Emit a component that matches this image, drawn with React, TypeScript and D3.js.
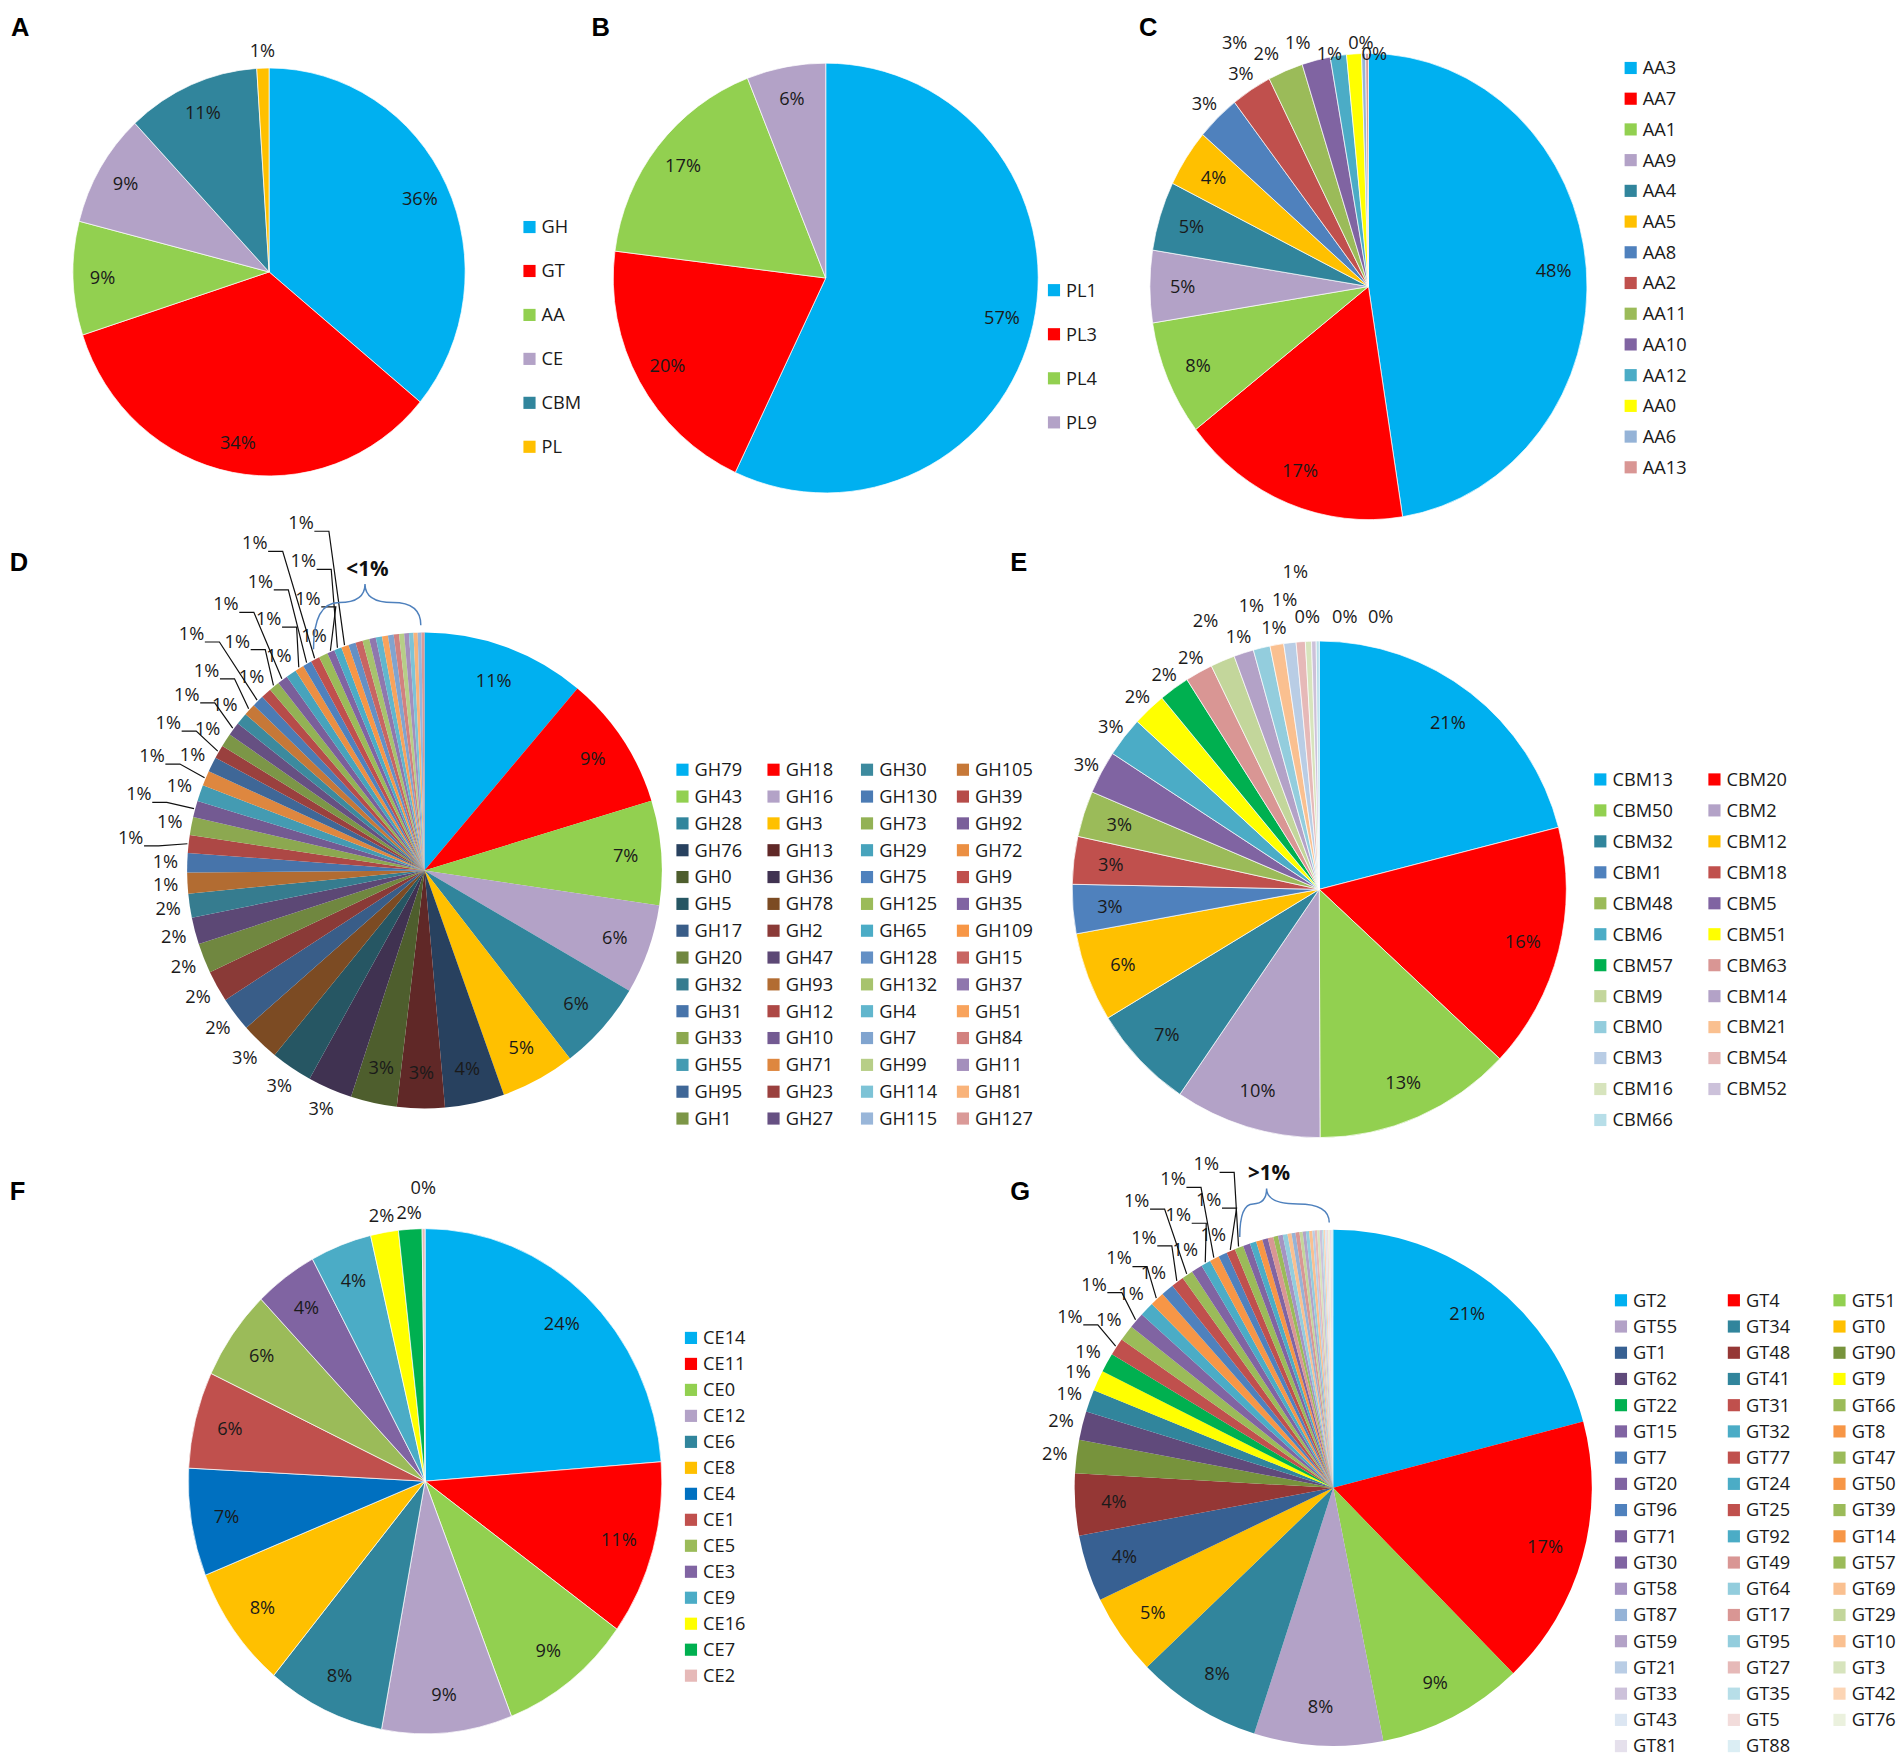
import { useEffect, useRef } from "react"
import * as d3 from "d3"

// A: share of each CAZy class
const classNames = ["GH", "GT", "AA", "CE", "CBM", "PL"]
const classShares = [36, 34, 9, 9, 11, 1]

// B: polysaccharide lyase families
const plFamilies = ["PL1", "PL3", "PL4", "PL9"]
const plShares = [57, 20, 17, 6]

// C: auxiliary activity families
const aaFamilies = ["AA3", "AA7", "AA1", "AA9", "AA4", "AA5", "AA8", "AA2", "AA11", "AA10", "AA12", "AA0", "AA6", "AA13"]
const aaShares = [47.5, 17, 8, 5, 4.8, 4, 3.2, 3, 2.6, 2.1, 1.2, 1.1, 0.3, 0.2]

// D: glycoside hydrolase families (pie order)
const ghFamilies = [
  "GH79", "GH18", "GH43", "GH16", "GH28", "GH3", "GH76", "GH13", "GH0", "GH36", "GH5", "GH78",
  "GH17", "GH2", "GH20", "GH47", "GH32", "GH93", "GH31", "GH12", "GH33", "GH10", "GH55", "GH71",
  "GH95", "GH23", "GH1", "GH27", "GH30", "GH105", "GH130", "GH39", "GH73", "GH92", "GH29", "GH72",
  "GH75", "GH9", "GH125", "GH35", "GH65", "GH109", "GH128", "GH15", "GH132", "GH37", "GH4", "GH51",
  "GH7", "GH84", "GH99", "GH11", "GH114", "GH81", "GH115", "GH127",
]
const ghShares = [
  11, 9, 7, 6, 6, 5, 4, 3.2, 3.1, 3.0, 2.8, 2.6, 2.3, 2.1, 2.0, 1.8, 1.6,
  1.4, 1.3, 1.2, 1.2, 1.1, 1.1, 1.0, 1.0, 0.9, 0.9, 0.9, 0.8, 0.8, 0.8, 0.7, 0.7, 0.7, 0.7,
  0.6, 0.6, 0.6, 0.6, 0.5, 0.5, 0.5,
  0.49, 0.48, 0.46, 0.44, 0.42, 0.4, 0.38, 0.36, 0.34, 0.32, 0.3, 0.28, 0.25, 0.2,
]

// E: carbohydrate-binding module families
const cbmFamilies = [
  "CBM13", "CBM20", "CBM50", "CBM2", "CBM32", "CBM12", "CBM1", "CBM18", "CBM48", "CBM5", "CBM6", "CBM51",
  "CBM57", "CBM63", "CBM9", "CBM14", "CBM0", "CBM21", "CBM3", "CBM54", "CBM16", "CBM52", "CBM66",
]
const cbmShares = [21, 16, 13, 9.6, 6.8, 5.8, 3.2, 3.1, 3.0, 2.8, 2.6, 2.2, 2.0, 1.8, 1.6, 1.3, 1.1, 0.9, 0.8, 0.6, 0.4, 0.3, 0.2]

// F: carbohydrate esterase families
const ceFamilies = ["CE14", "CE11", "CE0", "CE12", "CE6", "CE8", "CE4", "CE1", "CE5", "CE3", "CE9", "CE16", "CE7", "CE2"]
const ceShares = [23.8, 11.2, 9.1, 8.9, 8.1, 7.9, 6.9, 6.2, 5.8, 4.3, 4.2, 1.9, 1.6, 0.2]

// G: glycosyltransferase families (pie order)
const gtFamilies = [
  "GT2", "GT4", "GT51", "GT55", "GT34", "GT0", "GT1", "GT48", "GT90", "GT62", "GT41", "GT9",
  "GT22", "GT31", "GT66", "GT15", "GT32", "GT8", "GT7", "GT77", "GT47", "GT20", "GT24", "GT50",
  "GT96", "GT25", "GT39", "GT71", "GT92", "GT14", "GT30", "GT49", "GT57", "GT58", "GT64", "GT69",
  "GT87", "GT17", "GT29", "GT59", "GT95", "GT10", "GT21", "GT27", "GT3", "GT33", "GT35", "GT42",
  "GT43", "GT5", "GT76", "GT81", "GT88",
]
const gtShares = [
  21, 17, 9.2, 8.1, 7.9, 5.1, 4.2, 3.9, 2.1, 1.8,
  1.4, 1.3, 1.2, 1.1, 1.0, 1.0, 0.9, 0.9, 0.8, 0.8, 0.7, 0.7, 0.6, 0.6, 0.55, 0.55, 0.55,
  0.45, 0.4, 0.4, 0.35, 0.35, 0.3, 0.3, 0.3, 0.25, 0.25, 0.25, 0.2, 0.2, 0.2, 0.2,
  0.15, 0.15, 0.15, 0.15, 0.1, 0.1, 0.1, 0.1, 0.1, 0.1, 0.1,
]

// colours
const baseSix = ["#00B0F0", "#FF0000", "#92D050", "#B3A2C7", "#31859C", "#FFC000"]
const accents = ["#4F81BD", "#C0504D", "#9BBB59", "#8064A2", "#4BACC6", "#F79646"]
const shadeSteps = [-0.5, -0.28, -0.1, -0.2, -0.05, 0, 0.12, 0.28, 0.42]
const shade = (hex: string, t: number) =>
  t < 0 ? d3.interpolateRgb(hex, "#000")(-t) : d3.interpolateRgb(hex, "#fff")(t)

const aaColors = [...baseSix, "#4F81BD", "#C0504D", "#9BBB59", "#8064A2", "#4BACC6", "#FFFF00", "#95B3D7", "#D99694"]
const ghColors = ghFamilies.map((_, i) =>
  i < 6 ? baseSix[i] : shade(accents[(i - 6) % 6], shadeSteps[Math.floor((i - 6) / 6)])
)
const cbmColors = [
  ...baseSix, "#4F81BD", "#C0504D", "#9BBB59", "#8064A2", "#4BACC6", "#FFFF00", "#00B050", "#D99694",
  "#C3D69B", "#B3A2C7", "#93CDDD", "#FAC090", "#B9CDE5", "#E6B9B8", "#D7E4BD", "#CCC1DA", "#B7DEE8",
]
const ceColors = [...baseSix, "#0070C0", "#C0504D", "#9BBB59", "#8064A2", "#4BACC6", "#FFFF00", "#00B050", "#E6B9B8"]
const gtColors = [
  ...baseSix, "#376092", "#953735", "#77933C", "#604A7B", "#31859C", "#FFFF00",
  "#00B050", "#C0504D", "#9BBB59", "#8064A2", "#4BACC6", "#F79646", "#4F81BD", "#C0504D", "#9BBB59",
  "#8064A2", "#4BACC6", "#F79646", "#4F81BD", "#C0504D", "#9BBB59", "#8064A2", "#4BACC6", "#F79646",
  "#8064A2", "#D99694", "#9BBB59", "#A593C2", "#93CDDD", "#FAC090", "#95B3D7", "#D99694", "#C3D69B",
  "#B3A2C7", "#93CDDD", "#FAC090", "#B9CDE5", "#E6B9B8", "#D7E4BD", "#CCC1DA", "#B7DEE8", "#FCD5B5",
  "#DCE6F2", "#F2DCDB", "#EBF1DE", "#E5E0EC", "#DBEEF4",
]

const LABEL_FONT = "'Open Sans', 'Noto Sans', sans-serif"

interface Panel {
  letter: string
  lx: number
  ly: number
  names: string[]
  values: number[]
  colors: string[]
  cx: number
  cy: number
  rx: number
  ry: number
  insideMin: number
  hideBelow?: number
  leaders?: boolean
  outBase: number
  step: number
  boxH: number
  tight: number
  spreadZero?: boolean
  rowFrom?: number // labels of slices past this angle are set in a row above the pie
  stroke: string
  legendX: number[]
  legendY: number
  legendDy: number
  blockCols: number
  perBlock: number
  brace?: { text: string; h: number; pad: number; peak: number }
}

const panels: Panel[] = [
  {
    letter: "A", lx: 9, ly: 30, names: classNames, values: classShares, colors: baseSix,
    cx: 221.5, cy: 224, rx: 161.5, ry: 168, insideMin: 4, outBase: 14, step: 20, boxH: 14, tight: 1,
    stroke: "#fff", legendX: [431], legendY: 187, legendDy: 36.2, blockCols: 1, perBlock: 99,
  },
  {
    letter: "B", lx: 487, ly: 30, names: plFamilies, values: plShares, colors: baseSix,
    cx: 680, cy: 229, rx: 175, ry: 177, insideMin: 4, outBase: 14, step: 20, boxH: 14, tight: 1,
    stroke: "#fff", legendX: [863], legendY: 239, legendDy: 36.3, blockCols: 1, perBlock: 99,
  },
  {
    letter: "C", lx: 938, ly: 30, names: aaFamilies, values: aaShares, colors: aaColors,
    cx: 1127, cy: 236, rx: 180, ry: 192, insideMin: 3.5, outBase: 16, step: 12, boxH: 12, tight: 1,
    rowFrom: (335 / 180) * Math.PI,
    stroke: "#fff", legendX: [1338], legendY: 56, legendDy: 25.3, blockCols: 1, perBlock: 99,
  },
  {
    letter: "D", lx: 8, ly: 470, names: ghFamilies, values: ghShares, colors: ghColors,
    cx: 349.5, cy: 717, rx: 195.5, ry: 196, insideMin: 3.1, hideBelow: 0.5, leaders: true,
    outBase: 18, step: 30, boxH: 17, tight: 1.2, stroke: "none",
    legendX: [557, 632, 709, 788], legendY: 634, legendDy: 22.1, blockCols: 2, perBlock: 28,
    brace: { text: "<1%", h: 34, pad: 0.14, peak: 0.48 },
  },
  {
    letter: "E", lx: 832, ly: 470, names: cbmFamilies, values: cbmShares, colors: cbmColors,
    cx: 1086.5, cy: 732.5, rx: 203.5, ry: 204.5, insideMin: 2.95, outBase: 14, step: 22, boxH: 14, tight: 1,
    spreadZero: true, stroke: "#fff",
    legendX: [1313, 1407], legendY: 642, legendDy: 25.5, blockCols: 2, perBlock: 99,
  },
  {
    letter: "F", lx: 8, ly: 988, names: ceFamilies, values: ceShares, colors: ceColors,
    cx: 350, cy: 1220, rx: 195, ry: 208, insideMin: 3, outBase: 14, step: 20, boxH: 14, tight: 1,
    stroke: "#fff", legendX: [564], legendY: 1102, legendDy: 21.4, blockCols: 1, perBlock: 99,
  },
  {
    letter: "G", lx: 832, ly: 988, names: gtFamilies, values: gtShares, colors: gtColors,
    cx: 1098, cy: 1225.5, rx: 213, ry: 212.5, insideMin: 3.5, hideBelow: 0.5, leaders: true,
    outBase: 18, step: 28, boxH: 15, tight: 1.05, stroke: "none",
    legendX: [1330, 1423, 1510], legendY: 1071, legendDy: 21.6, blockCols: 3, perBlock: 99,
    brace: { text: ">1%", h: 28, pad: 0, peak: 0.3 },
  },
]

function drawPanel(root: d3.Selection<SVGGElement, unknown, null, undefined>, p: Panel) {
  const g = root.append("g")

  // Panel letter
  g.append("text")
    .attr("x", p.lx)
    .attr("y", p.ly)
    .attr("font-family", "'Liberation Sans', Arial, sans-serif")
    .attr("font-weight", "bold")
    .attr("font-size", 21)
    .text(p.letter)

  const total = d3.sum(p.values)
  const pct = (v: number) => (v / total) * 100
  const arcs = d3.pie<number>().sort(null).value((d) => d)(p.values)
  const arc = d3.arc<d3.PieArcDatum<number>>().innerRadius(0).outerRadius(p.ry)
  const midOf = (d: d3.PieArcDatum<number>) => (d.startAngle + d.endAngle) / 2

  // Slices (ellipse via x scale, as in the source figure)
  g.append("g")
    .attr("transform", `translate(${p.cx},${p.cy}) scale(${p.rx / p.ry},1)`)
    .selectAll("path")
    .data(arcs)
    .join("path")
    .attr("d", arc)
    .attr("fill", (_, i) => p.colors[i])
    .attr("stroke", p.stroke)
    .attr("stroke-width", 0.7)
    .attr("vector-effect", "non-scaling-stroke")

  const at = (a: number, k: number, extra: number): [number, number] => [
    p.cx + (p.rx * k + extra) * Math.sin(a),
    p.cy - (p.ry * k + extra) * Math.cos(a),
  ]

  // Row of labels for the thin slices just left of 12 o'clock (panel C)
  const rowPos = new Map<number, [number, number]>()
  if (p.rowFrom !== undefined) {
    let nextX = Infinity
    let k = 0
    for (let i = arcs.length - 1; i >= 0; i--) {
      const d = arcs[i]
      const share = pct(d.data)
      const mid = midOf(d)
      if (mid < p.rowFrom || share >= p.insideMin) continue
      const [nx] = at(mid, 1, 6)
      const gap = Math.round(share) === 0 ? 11 : 26
      const x = k === 0 ? nx + 6 : Math.min(nx, nextX - gap)
      rowPos.set(i, [x, p.cy - p.ry - 9 + (k % 2 === 0 ? 9 : 0)])
      nextX = x
      k++
    }
  }

  // Percentage labels
  const labels = g.append("g").attr("font-family", LABEL_FONT).attr("font-size", 15).attr("fill", "#1a1a1a")
  const leaders = g.append("g").attr("stroke", "#111").attr("stroke-width", 1).attr("fill", "none")
  const placed: { x: number; y: number; w: number }[] = []
  const collides = (x: number, y: number, w: number) =>
    placed.some((b) => Math.abs(b.x - x) < ((b.w + w) / 2) * p.tight - 1 && Math.abs(b.y - y) < p.boxH)

  arcs.forEach((d, i) => {
    const share = pct(d.data)
    if (p.hideBelow !== undefined && share < p.hideBelow) return
    const rounded = Math.round(share)
    const text = `${rounded}%`
    const mid = midOf(d)
    if (share >= p.insideMin) {
      const [x, y] = at(mid, 0.85, 0)
      labels.append("text").attr("x", x).attr("y", y).attr("dy", "0.35em").attr("text-anchor", "middle").text(text)
      return
    }
    const w = 8.5 * (text.length - 1) + 13.5
    let level = 0
    let pos = at(mid, 1, p.outBase)
    let found = false
    const row = rowPos.get(i)
    if (row) {
      pos = row
      found = true
    }
    if (!found && p.spreadZero && rounded === 0) {
      // push tiny slice labels sideways, the way the source chart does
      for (let s = 0; s < 6 && !found; s++) {
        const [bx, by] = at(mid, 1, p.outBase + 6)
        const x = bx + s * (w + 4)
        if (!collides(x, by, w)) {
          pos = [x, by]
          found = true
        }
      }
    }
    if (!found) {
      for (; level < 8; level++) {
        pos = at(mid, 1, p.outBase + level * p.step)
        if (!collides(pos[0], pos[1], w)) break
      }
    }
    const [x, y] = pos
    placed.push({ x, y, w })
    labels.append("text").attr("x", x).attr("y", y).attr("dy", "0.35em").attr("text-anchor", "middle").text(text)

    if (p.leaders && level >= 1) {
      const side = Math.sin(mid) < 0 ? 1 : -1
      const [ex, ey] = at(mid, 1, 1)
      const x0 = x + side * (w / 2)
      const x1 = x + side * (w / 2 + 12)
      leaders.append("path").attr("d", `M${x0},${y + 7}L${x1},${y + 7}L${ex},${ey}`)
    }
  })

  // Curly brace over the tail of tiny slices
  if (p.brace && p.hideBelow !== undefined) {
    const first = arcs.findIndex((d) => pct(d.data) < p.hideBelow!)
    const [x1, y1] = at(arcs[first].startAngle - p.brace.pad, 1, 8)
    const [x2, y2] = at(2 * Math.PI - 0.015, 1, 6)
    const mx = x1 + (x2 - x1) * p.brace.peak
    const top = Math.min(y1, y2) - p.brace.h
    const ym = top + p.brace.h * 0.45
    g.append("path")
      .attr(
        "d",
        `M${x1},${y1}Q${x1},${ym} ${(x1 + mx) / 2},${ym}Q${mx},${ym} ${mx},${top}` +
          `M${mx},${top}Q${mx},${ym} ${(mx + x2) / 2},${ym}Q${x2},${ym} ${x2},${y2}`
      )
      .attr("fill", "none")
      .attr("stroke", "#4F81BD")
      .attr("stroke-width", 1.2)
    g.append("text")
      .attr("x", mx + 2)
      .attr("y", top - 7)
      .attr("text-anchor", "middle")
      .attr("font-family", LABEL_FONT)
      .attr("font-weight", "bold")
      .attr("font-size", 17)
      .attr("fill", "#111")
      .text(p.brace.text)
  }

  // Legend
  const legend = g.append("g").attr("font-family", LABEL_FONT).attr("font-size", 15).attr("fill", "#1a1a1a")
  p.names.forEach((name, i) => {
    const block = Math.floor(i / p.perBlock)
    const j = i % p.perBlock
    const col = block * p.blockCols + (j % p.blockCols)
    const row = Math.floor(j / p.blockCols)
    const x = p.legendX[col]
    const y = p.legendY + row * p.legendDy
    legend.append("rect").attr("x", x).attr("y", y - 5).attr("width", 10).attr("height", 10).attr("fill", p.colors[i])
    legend.append("text").attr("x", x + 15).attr("y", y).attr("dy", "0.35em").text(name)
  })
}

export default function App() {
  const svgRef = useRef<SVGSVGElement>(null)

  useEffect(() => {
    if (!svgRef.current) return
    const svg = d3.select(svgRef.current)
    svg.selectAll("*").remove()
    svg.append("rect").attr("width", 1568).attr("height", 1448).attr("fill", "#fff")
    const root = svg.append("g")
    panels.forEach((p) => drawPanel(root, p))
  }, [])

  return (
    <svg
      ref={svgRef}
      width={1904}
      height={1758}
      viewBox="0 0 1568 1448"
      style={{ position: "absolute", left: 0, top: 0, background: "#fff" }}
    />
  )
}
